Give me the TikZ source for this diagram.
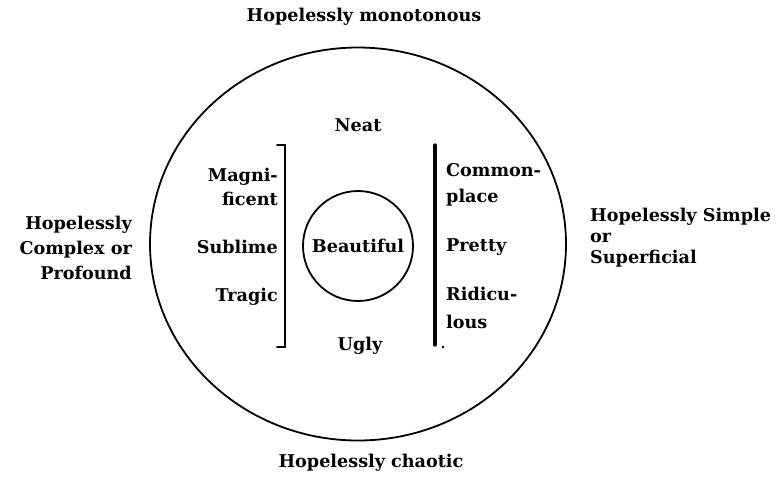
\documentclass[tikz,border=0pt]{standalone}
\usepackage{fontspec}
\setmainfont{DejaVu Serif}
\usetikzlibrary{shapes.geometric}
\begin{document}
\begin{tikzpicture}[x=1pt,y=-1pt,
  lbl/.style={font=\bfseries\fontsize{17.6}{24}\selectfont, inner sep=0pt},
  skip/.style={font=\bfseries\fontsize{17.6}{#1}\selectfont},
  ring/.style={draw, line width=1.8pt},
  bar/.style={line width=#1, line cap=round}]
\useasboundingbox (0,0) rectangle (778,482);
% outer circle
\node[ring, ellipse, minimum width=416pt, minimum height=393pt, inner sep=0pt] (outer) at (358,244) {};
% inner circle
\node[ring, circle, minimum size=110pt, inner sep=0pt, lbl] (beaut) at (358,246) {Beautiful};
% brackets
\draw[bar=1.6pt] (277,145) -- (285,145) -- (285,347) -- (277,347);
\draw[bar=3.2pt] (435,145) -- (435,345);
\fill (443,347) circle (1.3pt);
% inner labels
\node[lbl] (neat) at (358,125) {Neat};
\node[lbl] (ugly) at (360,346) {Ugly};
\node[lbl, anchor=east, align=right] (magni) at (278,187) {Magni-\\ficent};
\node[lbl, anchor=east] (sublime) at (278,247) {Sublime};
\node[lbl, anchor=east] (tragic) at (278,297) {Tragic};
\node[lbl, skip=26, anchor=west, align=left] (common) at (446,185) {Common-\\place};
\node[lbl, anchor=west] (pretty) at (446,247) {Pretty};
\node[lbl, skip=28, anchor=west, align=left] (ridic) at (446,308) {Ridicu-\\lous};
% outer labels
\node[lbl] (mono) at (364,17) {Hopelessly monotonous};
\node[lbl] (chaos) at (371,463) {Hopelessly chaotic};
\node[lbl, skip=25, anchor=east, align=right] (complex) at (132,248) {Hopelessly\\Complex or\\Profound};
\node[lbl, skip=21, anchor=west, align=left] (simple) at (590,238) {Hopelessly Simple\\or\\Superficial};
\end{tikzpicture}
\end{document}
